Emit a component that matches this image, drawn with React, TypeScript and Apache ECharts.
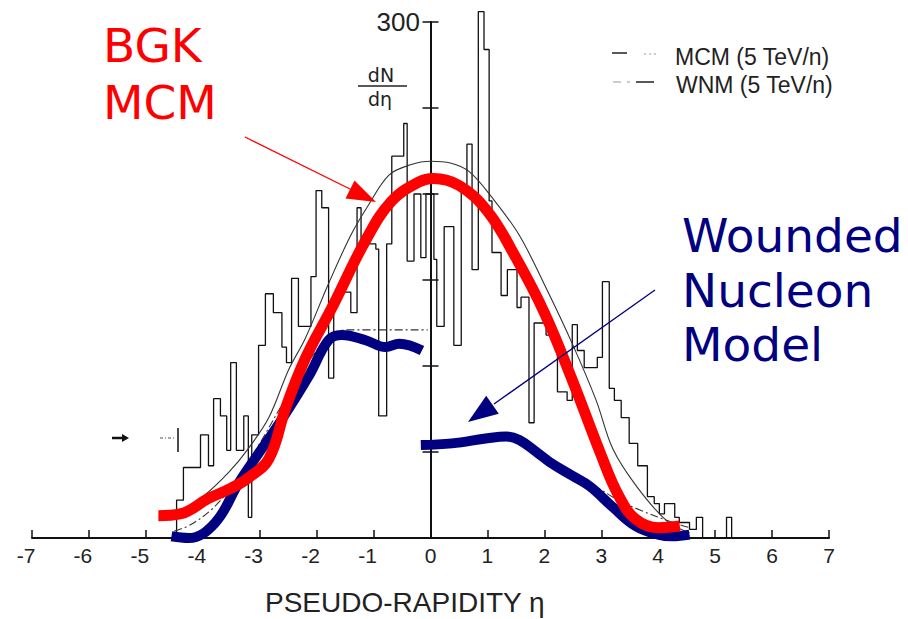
import React, { useEffect, useRef } from 'react';
import * as echarts from 'echarts';

// Histogram: left bin edges (pseudo-rapidity) and bin contents dN/deta
const histEdges = [-4.46,-4.34,-4.04,-3.90,-3.81,-3.69,-3.58,-3.51,-3.41,-3.28,-3.20,-3.14,-3.02,-2.90,-2.76,-2.61,-2.53,-2.44,-2.32,-2.10,-2.01,-1.91,-1.79,-1.70,-1.61,-1.40,-1.29,-1.22,-1.14,-0.96,-0.91,-0.77,-0.68,-0.47,-0.41,-0.29,-0.17,-0.08,0.06,0.11,0.24,0.41,0.54,0.64,0.73,0.84,0.94,1.03,1.08,1.24,1.35,1.52,1.59,1.73,1.82,2.03,2.23,2.40,2.49,2.58,2.70,2.93,3.02,3.14,3.23,3.35,3.49,3.64,3.81,3.93,4.02,4.11,4.29,4.37,4.55,4.67,4.78,5.20,5.29];
const histValues = [22,41,60,42,81,71,51,102,51,71,12,60,112,142,131,111,102,151,123,152,202,192,93,142,143,131,192,169,171,168,71,171,222,241,161,200,163,200,162,123,181,112,205,229,156,306,284,196,166,141,156,134,140,67,125,118,85,80,124,109,99,105,149,87,80,70,55,42,24,20,14,20,12,9,5,12,0,12,0];

// MCM (5 TeV/n) thin curve
const mcmEta = [-4.45,-4.0,-3.55,-3.2,-2.84,-2.49,-2.2,-1.79,-1.4,-1.1,-0.73,-0.35,0,0.35,0.68,1.08,1.56,2.05,2.49,2.91,3.2,3.62,4.15,4.55];
const mcmVal = [14,24,38,52,70,98,116,148,176,193,211,217,219,218,213,198,176,144,113,80,52,30,10,3];

// WNM (5 TeV/n) thin dash-dot curve (two branches)
const wnmLeftEta = [-4.5,-4.2,-3.8,-3.4,-3.0,-2.6,-2.2,-1.8,-1.5,-0.05];
const wnmLeftVal = [4,8,18,34,55,78,100,116,121,121];
const wnmRightEta = [0,0.5,1.0,1.4,1.8,2.1,2.5,2.9,3.3,3.7,4.26,4.55];
const wnmRightVal = [55,56,58,58,52,46,38,30,22,16,9,6];

// BGK MCM (red overlay)
const bgkEta = [-4.78,-4.4,-3.9,-3.5,-3.2,-2.84,-2.54,-2.19,-1.73,-1.14,-0.68,-0.2,0.05,0.5,1.0,1.5,2.0,2.5,3.0,3.3,3.6,4.0,4.38];
const bgkVal = [13,14,23,29,35,46,76,105,134,173,196,207,209,205,190,163,131,91,48,25,11,6,7];

// Wounded Nucleon Model (blue overlay, two branches)
const wnLeftEta = [-4.55,-4.25,-3.78,-3.37,-2.96,-2.61,-2.14,-1.79,-1.56,-1.14,-0.79,-0.55,-0.15];
const wnLeftVal = [1,0,9,32,52,69,94,115,118,115,111,113,109];
const wnRightEta = [-0.17,0.38,1.0,1.33,1.56,1.86,2.1,2.5,2.8,3.2,3.6,4.0,4.25,4.55];
const wnRightVal = [54,55,58,59,57,50,44,36,30,18,7,2,1,2];

// y-axis tick label shown
const yTopLabel = '300';

const pairs = (xs: number[], ys: number[]) => xs.map((x, i) => [x, ys[i]]);

export default function App() {
  const ref = useRef<HTMLDivElement>(null);
  useEffect(() => {
    if (!ref.current) return;
    const chart = echarts.init(ref.current, undefined, { renderer: 'svg' });
    const histData = [[histEdges[0], 0], ...pairs(histEdges, histValues)];
    const RED = '#ff0000';
    const NAVY = '#000080';
    const INK = '#111111';
    const option: any = {
      animation: false,
      grid: { left: 32, right: 79, top: 22, bottom: 81, containLabel: false, outerBoundsMode: 'none' },
      xAxis: {
        type: 'value', min: -7, max: 7, interval: 1,
        axisLine: { onZero: false, lineStyle: { color: INK, width: 2 } },
        axisTick: { inside: true, length: 8, lineStyle: { color: INK, width: 1.5 } },
        splitLine: { show: false },
        axisLabel: {
          margin: 7, color: '#222', fontSize: 21, fontFamily: 'Liberation Sans',
          formatter: (v: number) => (v < 0 ? `{neg|-${Math.abs(v)}}` : `${v}`),
          rich: { neg: { fontSize: 21, fontFamily: 'Liberation Sans', color: '#222', padding: [0, 12, 0, 0] } },
        },
      },
      yAxis: [
        {
          type: 'value', min: 0, max: 300, interval: 50,
          axisLine: { show: true, onZero: true, onZeroAxisIndex: 0, lineStyle: { color: INK, width: 2 } },
          axisTick: { show: true, length: 8, lineStyle: { color: INK, width: 1.5 } },
          splitLine: { show: false },
          axisLabel: { show: false },
        },
        {
          type: 'value', min: 0, max: 300, interval: 50, position: 'left',
          axisLine: { show: true, onZero: true, onZeroAxisIndex: 0, lineStyle: { color: INK, width: 2 } },
          axisTick: { show: true, inside: true, length: 8, lineStyle: { color: INK, width: 1.5 } },
          splitLine: { show: false },
          axisLabel: { show: false },
        },
      ],
      series: [
        {
          name: 'histogram', type: 'line', step: 'end', data: histData, symbol: 'none', clip: false,
          lineStyle: { color: INK, width: 1.3 }, z: 2,
        },
        {
          name: 'MCM (5 TeV/n)', type: 'line', data: pairs(mcmEta, mcmVal), symbol: 'none', smooth: 0.35,
          lineStyle: { color: '#333', width: 1.1 }, z: 3,
        },
        {
          name: 'WNM (5 TeV/n) L', type: 'line', data: pairs(wnmLeftEta, wnmLeftVal), symbol: 'none', smooth: 0.35,
          lineStyle: { color: '#333', width: 1.1, type: [8, 3, 2, 3] }, z: 3,
        },
        {
          name: 'WNM (5 TeV/n) R', type: 'line', data: pairs(wnmRightEta, wnmRightVal), symbol: 'none', smooth: 0.35,
          lineStyle: { color: '#333', width: 1.1, type: [8, 3, 2, 3] }, z: 3,
        },
        {
          name: 'Wounded Nucleon Model L', type: 'line', data: pairs(wnLeftEta, wnLeftVal), symbol: 'none', smooth: 0.4,
          lineStyle: { color: NAVY, width: 10 }, z: 4,
        },
        {
          name: 'Wounded Nucleon Model R', type: 'line', data: pairs(wnRightEta, wnRightVal), symbol: 'none', smooth: 0.4,
          lineStyle: { color: NAVY, width: 10 }, z: 4,
        },
        {
          name: 'BGK MCM', type: 'line', data: pairs(bgkEta, bgkVal), symbol: 'none', smooth: 0.4,
          lineStyle: { color: RED, width: 11 }, z: 5,
        },
      ],
      graphic: [
        { type: 'text', z: 100, x: 420, y: 22, style: { text: yTopLabel, fill: '#222', font: '26px "Liberation Sans"', align: 'right', verticalAlign: 'middle' } },
        { type: 'text', z: 100, x: 103, y: 45.5, style: { text: 'BGK', fill: RED, font: '47px "DejaVu Sans"', verticalAlign: 'middle' } },
        { type: 'text', z: 100, x: 103, y: 102.5, style: { text: 'MCM', fill: RED, font: '47px "DejaVu Sans"', verticalAlign: 'middle' } },
        { type: 'text', z: 100, x: 682, y: 235.5, style: { text: 'Wounded', fill: NAVY, font: '47px "DejaVu Sans"', verticalAlign: 'middle' } },
        { type: 'text', z: 100, x: 682, y: 290, style: { text: 'Nucleon', fill: NAVY, font: '47px "DejaVu Sans"', verticalAlign: 'middle' } },
        { type: 'text', z: 100, x: 682, y: 344.5, style: { text: 'Model', fill: NAVY, font: '47px "DejaVu Sans"', verticalAlign: 'middle' } },
        // red arrow
        { type: 'line', z: 100, shape: { x1: 245, y1: 137, x2: 352, y2: 190 }, style: { stroke: RED, lineWidth: 1.3 } },
        { type: 'polygon', z: 100, shape: { points: [[376, 202], [354.5, 180.6], [345.5, 198.4]] }, style: { fill: RED } },
        // blue arrow
        { type: 'line', z: 100, shape: { x1: 655, y1: 290, x2: 494, y2: 404 }, style: { stroke: NAVY, lineWidth: 1.3 } },
        { type: 'polygon', z: 100, shape: { points: [[468, 422], [498.8, 413.7], [486.2, 395.7]] }, style: { fill: NAVY } },
        // dN/deta
        { type: 'text', z: 100, x: 381, y: 75, style: { text: 'dN', fill: '#222', font: '19px "DejaVu Sans"', align: 'center', verticalAlign: 'middle' } },
        { type: 'line', z: 100, shape: { x1: 358, y1: 86, x2: 407, y2: 86 }, style: { stroke: '#222', lineWidth: 1.3 } },
        { type: 'text', z: 100, x: 380, y: 99, style: { text: 'dη', fill: '#222', font: '19px "DejaVu Sans"', align: 'center', verticalAlign: 'middle' } },
        // axis title
        { type: 'text', z: 100, x: 265, y: 602.5, style: { text: 'PSEUDO-RAPIDITY η', fill: '#222', font: '28px "Liberation Sans"', verticalAlign: 'middle' } },
        // legend
        { type: 'line', z: 100, shape: { x1: 612, y1: 53, x2: 627, y2: 53 }, style: { stroke: '#222', lineWidth: 1.5 } },
        { type: 'line', z: 100, shape: { x1: 644, y1: 54, x2: 656, y2: 54 }, style: { stroke: '#999', lineWidth: 1, lineDash: [2, 3] } },
        { type: 'text', z: 100, x: 675, y: 56.5, style: { text: 'MCM (5 TeV/n)', fill: '#222', font: '23px "Liberation Sans"', verticalAlign: 'middle' } },
        { type: 'line', z: 100, shape: { x1: 613, y1: 82, x2: 621, y2: 82 }, style: { stroke: '#999', lineWidth: 1 } },
        { type: 'line', z: 100, shape: { x1: 627, y1: 82, x2: 630, y2: 82 }, style: { stroke: '#999', lineWidth: 1 } },
        { type: 'line', z: 100, shape: { x1: 636, y1: 82, x2: 654, y2: 82 }, style: { stroke: '#222', lineWidth: 1.5 } },
        { type: 'text', z: 100, x: 676, y: 85, style: { text: 'WNM (5 TeV/n)', fill: '#222', font: '23px "Liberation Sans"', verticalAlign: 'middle' } },
        // stray marks in the scan
        { type: 'line', z: 100, shape: { x1: 112, y1: 438, x2: 123, y2: 438 }, style: { stroke: '#111', lineWidth: 2.5 } },
        { type: 'polygon', z: 100, shape: { points: [[129, 438], [122, 434], [122, 442]] }, style: { fill: '#111' } },
        { type: 'line', z: 100, shape: { x1: 160, y1: 438, x2: 176, y2: 438 }, style: { stroke: '#555', lineWidth: 1, lineDash: [3, 2, 1, 2] } },
        { type: 'line', z: 100, shape: { x1: 178, y1: 428, x2: 178, y2: 452 }, style: { stroke: '#111', lineWidth: 1.5 } },
      ],
    };
    chart.setOption(option);
    return () => chart.dispose();
  }, []);
  return <div ref={ref} style={{ position: 'absolute', left: 0, top: 0, width: 908, height: 619, background: '#fff' }} />;
}
